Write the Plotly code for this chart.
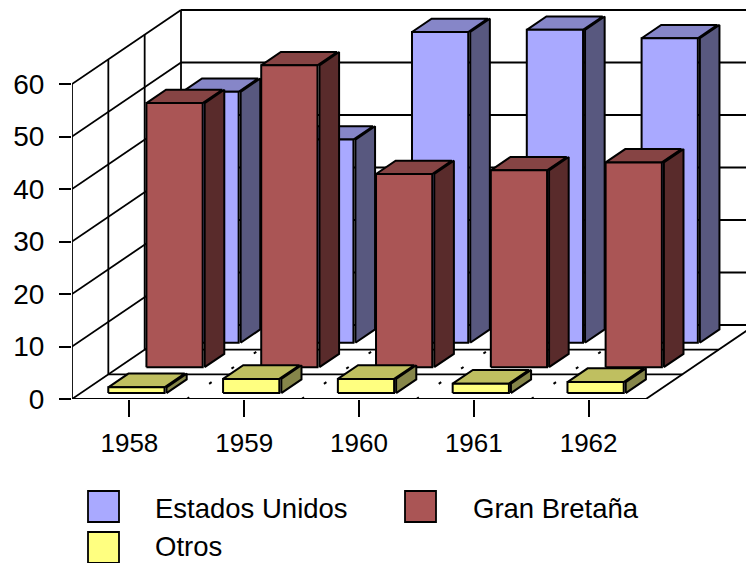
import plotly.graph_objects as go

years = ["1958", "1959", "1960", "1961", "1962"]
estados_unidos = [47.8, 38.7, 59.2, 59.6, 58.0]
gran_bretana = [50.3, 57.5, 36.8, 37.5, 39.0]
otros = [1.1, 2.7, 2.7, 1.8, 2.1]
y_ticks = [0, 10, 20, 30, 40, 50, 60]

W, H = 746, 563
X0, Y0 = 72, 399          # pixel of origin
PX_CAT = 114.8            # pixels per category
PX_VAL = 5.25             # pixels per value unit
DX, DY = 109, 74          # oblique depth vector in pixels
FONT = "Liberation Sans, Arial, sans-serif"


def proj(c, v, d):
    """category position, value, depth (0..1) -> plot coordinates"""
    return c + d * DX / PX_CAT, v + d * DY / PX_VAL


def poly_trace(polys, fill, lw=2, color="#000"):
    xs, ys = [], []
    for p in polys:
        for (c, v, d) in p + [p[0]]:
            x, y = proj(c, v, d)
            xs.append(x)
            ys.append(y)
        xs.append(None)
        ys.append(None)
    return go.Scatter(x=xs, y=ys, mode="lines", fill="toself", fillcolor=fill,
                      line=dict(color=color, width=lw), hoverinfo="skip", showlegend=False)


def line_trace(segs, color="#000", lw=1.8, dash="solid"):
    xs, ys = [], []
    for a, b in segs:
        for (c, v, d) in (a, b):
            x, y = proj(c, v, d)
            xs.append(x)
            ys.append(y)
        xs.append(None)
        ys.append(None)
    return go.Scatter(x=xs, y=ys, mode="lines", line=dict(color=color, width=lw, dash=dash),
                      hoverinfo="skip", showlegend=False)


N = len(years)
XMAX = 8.0
fig = go.Figure()

# walls and floor
fig.add_trace(line_trace([((0, v, 1), (XMAX, v, 1)) for v in y_ticks[1:]]))
fig.add_trace(line_trace([((N, 0, 1), (XMAX, 0, 1))], color="#999", lw=4))
fig.add_trace(line_trace([((0, v, 0), (0, v, 1)) for v in y_ticks[1:]]))
fig.add_trace(line_trace([((0, 0, d), (0, 60, d)) for d in (0, 1 / 3, 2 / 3, 1)]))
fig.add_trace(line_trace([((0, 0, 0), (0, 0, 1)), ((N, 0, 0), (N, 0, 1)), ((0, 0, 0), (N, 0, 0)),
                          ((0, 0, 1 / 3), (N, 0, 1 / 3)), ((0, 0, 2 / 3), (N, 0, 2 / 3)), ((0, 0, 1), (N, 0, 1))]))
fig.add_trace(line_trace([((c, 0, 0), (c, 0, 1)) for c in range(1, N)], lw=2, dash="3px,24px"))

BAR_L, BAR_W = 0.24, 0.49
GAP = 2 / PX_CAT
ROW_D = [(0.08, 0.265), (0.43, 0.61), (0.76, 0.94)]
rows = [
    (estados_unidos, ROW_D[2], "#a9a9ff", "#8686c8", "#58587f"),
    (gran_bretana, ROW_D[1], "#aa5555", "#864444", "#592b2b"),
    (otros, ROW_D[0], "#ffff80", "#bfbf60", "#86864a"),
]
for vals, (d0, d1), front, top, side in rows:
    sides, tops, fronts = [], [], []
    for i, v in enumerate(vals):
        l, r = i + BAR_L, i + BAR_L + BAR_W
        fronts.append([(l, 0, d0), (r, 0, d0), (r, v, d0), (l, v, d0)])
        tops.append([(l, v, d0), (r, v, d0), (r, v, d1), (l, v, d1)])
        sides.append([(r + GAP, 0, d0), (r + GAP, 0, d1), (r + GAP, v, d1), (r + GAP, v, d0)])
    fig.add_trace(poly_trace(sides, side))
    fig.add_trace(poly_trace(tops, top))
    fig.add_trace(poly_trace(fronts, front))

fig.update_layout(
    width=W, height=H,
    margin=dict(l=0, r=0, t=0, b=0, pad=0),
    paper_bgcolor="#fff", plot_bgcolor="#fff",
    showlegend=False,
    font=dict(family=FONT, size=26, color="#000"),
    xaxis=dict(domain=[X0 / W, 1], range=[0, (W - X0) / PX_CAT], showgrid=False, zeroline=False,
               automargin=False,
               showline=False, tickmode="array", tickvals=[i + 0.5 for i in range(N)], ticktext=years,
               ticks="outside", ticklen=17, tickwidth=1.8, tickcolor="#000", ticklabelstandoff=4),
    yaxis=dict(domain=[(H - Y0) / H, 1], range=[0, Y0 / PX_VAL], showgrid=False, zeroline=False,
               automargin=False, tickfont=dict(size=28),
               showline=False, tickmode="array", tickvals=y_ticks,
               ticks="outside", ticklen=12, tickwidth=1.8, tickcolor="#000", ticklabelstandoff=9),
)

# legend
legend = [("Estados Unidos", "#a9a9ff", 88, 491, 154, 508), ("Gran Bretaña", "#aa5555", 405, 491, 472, 508),
          ("Otros", "#ffff80", 88, 532, 154, 546)]
for name, col, lx, ly, tx, ty in legend:
    fig.add_shape(type="rect", xref="paper", yref="paper", x0=lx / W, x1=(lx + 31) / W,
                  y0=1 - ly / H, y1=1 - (ly + 31) / H, fillcolor=col, line=dict(color="#000", width=1.8))
    fig.add_annotation(xref="paper", yref="paper", x=tx / W, y=1 - ty / H, text=name, showarrow=False,
                       xanchor="left", yanchor="middle", borderpad=0,
                       font=dict(family=FONT, size=27.5, color="#000"))

fig.write_html("out.html", config={"displayModeBar": False},
               post_script="document.body.style.margin='0';")
